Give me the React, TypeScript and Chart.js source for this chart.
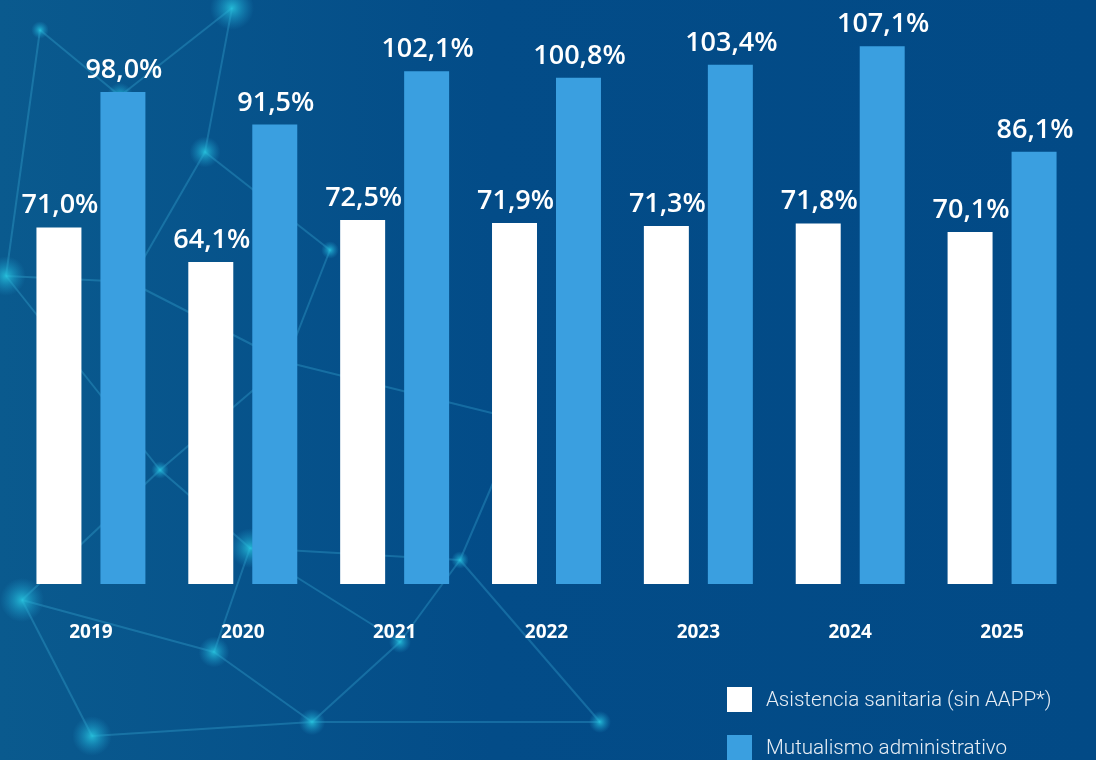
import React, { useEffect, useRef } from "react";
import { Chart, registerables } from "chart.js";

Chart.register(...registerables);

const categories = ["2019", "2020", "2021", "2022", "2023", "2024", "2025"];
const asistenciaValues = [71.0, 64.1, 72.5, 71.9, 71.3, 71.8, 70.1];
const mutualismoValues = [98.0, 91.5, 102.1, 100.8, 103.4, 107.1, 86.1];
const seriesNames = ["Asistencia sanitaria (sin AAPP*)", "Mutualismo administrativo"];

const WHITE = "#ffffff";
const BLUE = "#3a9fe0";
const BG = "#024a86";

// decorative background network (not data)
const decoNodes: [number, number, number][] = [
  [6, 276, 9], [22, 600, 10], [92, 736, 9], [120, 96, 6], [232, 8, 10], [205, 152, 7],
  [250, 548, 9], [214, 652, 7], [312, 722, 6], [286, 362, 5], [160, 470, 4], [400, 642, 5],
  [460, 560, 4], [600, 722, 5], [130, 282, 5], [40, 30, 4], [330, 250, 4], [520, 420, 3],
];
const decoLinks: [number, number][] = [
  [0, 14], [14, 3], [3, 4], [4, 5], [5, 14], [0, 10], [10, 6], [6, 7], [7, 1], [1, 10],
  [7, 8], [8, 2], [2, 1], [6, 11], [11, 12], [12, 13], [11, 8], [9, 10], [9, 16], [16, 5],
  [15, 3], [15, 0], [12, 17], [17, 9], [13, 8], [6, 12], [14, 9],
];

const bgPlugin = {
  id: "bgPlugin",
  beforeDraw(chart: any) {
    const { ctx, width, height } = chart;
    ctx.save();
    const g = ctx.createLinearGradient(0, 0, width, 0);
    g.addColorStop(0, "#0a5a8e");
    g.addColorStop(0.45, "#034c88");
    g.addColorStop(1, BG);
    ctx.fillStyle = g;
    ctx.fillRect(0, 0, width, height);
    ctx.strokeStyle = "rgba(70,190,230,0.28)";
    ctx.lineWidth = 2;
    decoLinks.forEach(([a, b]) => {
      ctx.beginPath();
      ctx.moveTo(decoNodes[a][0], decoNodes[a][1]);
      ctx.lineTo(decoNodes[b][0], decoNodes[b][1]);
      ctx.stroke();
    });
    decoNodes.forEach(([x, y, r]) => {
      const rg = ctx.createRadialGradient(x, y, 0, x, y, r * 2.2);
      rg.addColorStop(0, "rgba(40,200,225,0.85)");
      rg.addColorStop(0.5, "rgba(30,170,210,0.45)");
      rg.addColorStop(1, "rgba(30,150,200,0)");
      ctx.fillStyle = rg;
      ctx.beginPath();
      ctx.arc(x, y, r * 2.2, 0, Math.PI * 2);
      ctx.fill();
    });
    ctx.restore();
  },
};

const fmt = (v: number) => v.toFixed(1).replace(".", ",") + "%";

const labelPlugin = {
  id: "labelPlugin",
  afterDatasetsDraw(chart: any) {
    const { ctx } = chart;
    ctx.save();
    ctx.fillStyle = "#ffffff";
    ctx.font = "600 27px 'Open Sans'";
    ctx.textAlign = "center";
    ctx.textBaseline = "alphabetic";
    chart.data.datasets.forEach((ds: any, i: number) => {
      const meta = chart.getDatasetMeta(i);
      meta.data.forEach((bar: any, j: number) => {
        ctx.fillText(fmt(ds.data[j]), bar.x + 1, bar.y - 14);
      });
    });
    ctx.restore();
  },
};

export default function App() {
  const ref = useRef<HTMLCanvasElement>(null);
  useEffect(() => {
    document.body.style.margin = "0";
    const chart = new Chart(ref.current!, {
      type: "bar",
      data: {
        labels: categories,
        datasets: [
          { label: seriesNames[0], data: asistenciaValues, backgroundColor: WHITE },
          { label: seriesNames[1], data: mutualismoValues, backgroundColor: BLUE },
        ],
      },
      options: {
        responsive: false,
        animation: false,
        layout: { padding: { left: 15, right: 18, top: 0, bottom: 0 } },
        plugins: { legend: { display: false }, tooltip: { enabled: false } },
        datasets: { bar: { barPercentage: 0.703, categoryPercentage: 0.8427 } } as any,
        scales: {
          x: {
            grid: { display: false },
            border: { display: false },
            ticks: {
              color: "#ffffff",
              font: { family: "'Open Sans'", size: 19, weight: "bold" },
              padding: 29,
            },
            afterFit: (scale: any) => {
              scale.height = 176;
            },
          },
          y: { display: false, min: 0, max: 116.3 },
        },
      },
      plugins: [bgPlugin, labelPlugin],
    });
    return () => chart.destroy();
  }, []);

  const legendItem = (color: string, text: string, top: number) => (
    <div style={{ position: "absolute", left: 727, top, display: "flex", alignItems: "center" }}>
      <div style={{ width: 25, height: 25, background: color }} />
      <span
        style={{
          marginLeft: 14,
          color: "#e8eef5",
          fontFamily: "Roboto, 'Open Sans', sans-serif",
          fontWeight: 300,
          fontSize: 20.6,
          lineHeight: "25px",
          whiteSpace: "nowrap",
        }}
      >
        {text}
      </span>
    </div>
  );

  return (
    <div style={{ position: "relative", width: 1096, height: 760, overflow: "hidden", background: BG }}>
      <canvas ref={ref} width={1096} height={760} style={{ display: "block" }} />
      {legendItem(WHITE, seriesNames[0], 687)}
      {legendItem(BLUE, seriesNames[1], 735)}
    </div>
  );
}
